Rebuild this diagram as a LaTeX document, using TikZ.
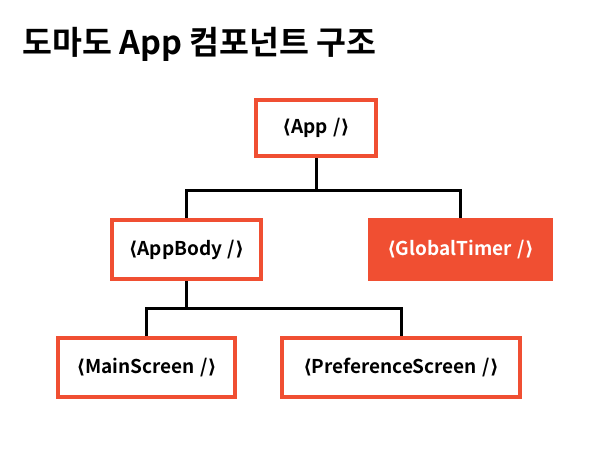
\documentclass[tikz,border=0pt]{standalone}
\usepackage{fontspec}
\setmainfont{Noto Sans CJK KR}[BoldFont={* Bold}]
\newfontfamily\brk{DejaVu Sans}
\definecolor{tomato}{HTML}{F04F32}
\newcommand{\comp}[1]{{\brk\bfseries\symbol{"27E8}}#1\hspace{0.3em}/{\brk\bfseries\symbol{"27E9}}}
\tikzset{
  compbox/.style={draw=tomato, line width=4pt, fill=white, font=\bfseries\fontsize{19}{21}\selectfont, inner sep=0pt},
  activebox/.style={compbox, fill=tomato, text=white},
  link/.style={line width=3pt, black}
}
\begin{document}
\begin{tikzpicture}[x=1pt,y=-1pt]
    \useasboundingbox (0,0) rectangle (610,453);

    % titolo
    \node[anchor=base west, inner sep=0pt, font=\bfseries\fontsize{32.5}{36}\selectfont] (title) at (22,54) {도마도 App 컴포넌트 구조};

    % componenti
    \node[compbox, minimum width=120pt, minimum height=56pt] (app) at (316,128) {\comp{App}};
    \node[compbox, minimum width=149pt, minimum height=59pt] (body) at (186.5,249.5) {\comp{AppBody}};
    \node[activebox, minimum width=181pt, minimum height=59pt] (timer) at (460.5,249.5) {\comp{GlobalTimer}};
    \node[compbox, minimum width=177pt, minimum height=59pt] (main) at (146.5,367.5) {\comp{MainScreen}};
    \node[compbox, minimum width=238pt, minimum height=59pt] (pref) at (401,367.5) {\comp{PreferenceScreen}};

    % collegamenti
    \coordinate (j1) at (316,190);
    \coordinate (j2) at (186.5,308);
    \draw[link] (app.south) -- (j1);
    \draw[link] (body.north) |- (j1) -| (timer.north);
    \draw[link] (body.south) -- (j2);
    \draw[link] (main.north) |- (j2) -| (pref.north);
\end{tikzpicture}
\end{document}
